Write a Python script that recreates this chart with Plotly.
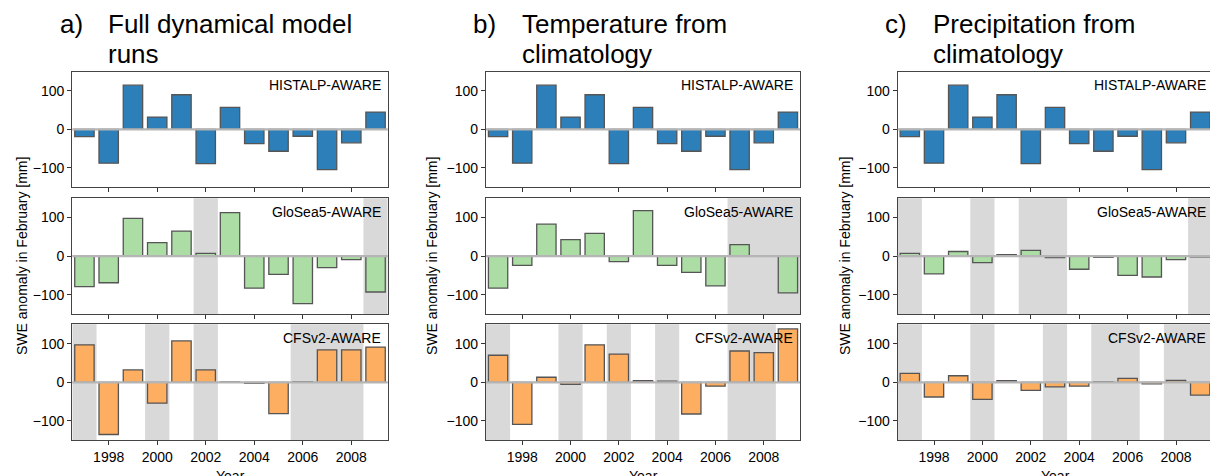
import plotly.graph_objects as go

# ---------------- data ----------------
years = list(range(1997, 2010))

histalp = [-19, -88, 115, 32, 90, -89, 57, -37, -57, -18, -105, -35, 45]

glosea_a = [-79, -69, 98, 35, 65, 7, 113, -83, -47, -123, -30, -9, -93]
cfsv2_a = [97, -135, 32, -54, 107, 32, 1, -3, -81, 2, 84, 84, 91]

glosea_b = [-83, -24, 83, 43, 59, -14, 118, -24, -42, -77, 30, 1, -95]
cfsv2_b = [70, -109, 13, -5, 97, 73, 4, 3, -82, -10, 81, 77, 138]

glosea_c = [7, -46, 12, -17, 4, 15, -4, -34, -3, -50, -54, -9, -2]
cfsv2_c = [23, -38, 17, -44, 4, -21, -12, -10, 2, 10, -4, 5, -33]

shade_histalp = []
shade_glosea_a = [2002, 2009]
shade_cfsv2_a = [1997, 2000, 2002, 2006, 2007, 2008]
shade_glosea_b = [2007, 2008, 2009]
shade_cfsv2_b = [1997, 2000, 2002, 2004, 2007, 2008]
shade_glosea_c = [1997, 2000, 2002, 2003, 2009]
shade_cfsv2_c = [1997, 2000, 2003, 2005, 2006, 2008, 2009]

row_names = ["HISTALP-AWARE", "GloSea5-AWARE", "CFSv2-AWARE"]
col_letters = ["a)", "b)", "c)"]
col_titles = [["Full dynamical model", "runs"],
              ["Temperature from", "climatology"],
              ["Precipitation from", "climatology"]]
ylabel = "SWE anomaly in February [mm]"
xlabel = "Year"
x_tickvals = [1998, 2000, 2002, 2004, 2006, 2008]
y_tickvals = [-100, 0, 100]

series = [
    [histalp, histalp, histalp],
    [glosea_a, glosea_b, glosea_c],
    [cfsv2_a, cfsv2_b, cfsv2_c],
]
shades = [
    [shade_histalp, shade_histalp, shade_histalp],
    [shade_glosea_a, shade_glosea_b, shade_glosea_c],
    [shade_cfsv2_a, shade_cfsv2_b, shade_cfsv2_c],
]
row_colors = ["#2c7fb8", "#abdda4", "#fdae61"]

# ---------------- layout geometry (pixels) ----------------
W, H = 1210, 476
col_px = [(72.3, 387.7), (486.0, 800.0), (897.7, 1210.0)]
row_px = [(71.7, 187.0), (198.3, 314.0), (324.3, 440.3)]
px_per_year = 24.2
xmin = 1996.5
col_xmax = [2009.5, 2009.5, xmin + (1210.0 - 897.7) / px_per_year]
col_right_true = [387.7, 800.0, 1213.0]

def fx(p):
    return p / W

def fy(p):
    return 1 - p / H

def runs(yrs):
    """group consecutive shaded years into (start, end) spans"""
    out = []
    for yr in sorted(yrs):
        if out and yr == out[-1][1] + 1:
            out[-1][1] = yr
        else:
            out.append([yr, yr])
    return out

fig = go.Figure()
layout = dict(
    width=W, height=H,
    margin=dict(l=0, r=0, t=0, b=0),
    paper_bgcolor="white", plot_bgcolor="rgba(0,0,0,0)",
    showlegend=False,
    font=dict(family="Liberation Sans, Arial, sans-serif", size=14, color="black"),
    bargap=0.2,
)
shapes = []
annotations = []

for r in range(3):
    for c in range(3):
        k = r * 3 + c + 1
        xa = "x" if k == 1 else f"x{k}"
        ya = "y" if k == 1 else f"y{k}"
        xkey = "xaxis" if k == 1 else f"xaxis{k}"
        ykey = "yaxis" if k == 1 else f"yaxis{k}"

        fig.add_trace(go.Bar(
            x=years, y=series[r][c], width=0.8,
            marker=dict(color=row_colors[r], line=dict(color="#555555", width=1.3)),
            xaxis=xa, yaxis=ya, hoverinfo="x+y",
        ))

        layout[xkey] = dict(
            domain=[fx(col_px[c][0]), fx(col_px[c][1])],
            anchor=ya, range=[xmin, col_xmax[c]],
            showgrid=False, zeroline=False,
            showline=True, linecolor="#444444", linewidth=1.2, mirror=True,
            ticks="outside", ticklen=4, tickwidth=1, tickcolor="#333333",
            tickvals=x_tickvals, showticklabels=(r == 2),
            tickfont=dict(size=14, color="black"),
        )
        layout[ykey] = dict(
            domain=[fy(row_px[r][1]), fy(row_px[r][0])],
            anchor=xa, range=[-150, 150],
            showgrid=False, zeroline=False,
            showline=True, linecolor="#444444", linewidth=1.2, mirror=(c < 2),
            ticks="outside", ticklen=4, tickwidth=1, tickcolor="#333333",
            tickvals=y_tickvals, tickfont=dict(size=14, color="black"),
        )

        # grey shading behind selected years
        for a, b in runs(shades[r][c]):
            shapes.append(dict(
                type="rect", xref=xa, yref=f"{ya} domain",
                x0=a - 0.5, x1=b + 0.5, y0=0, y1=1,
                fillcolor="#d9d9d9", line=dict(width=0), layer="below",
            ))
        # zero line
        shapes.append(dict(
            type="line", xref=f"{xa} domain", yref=ya,
            x0=0, x1=1, y0=0, y1=0,
            line=dict(color="#b5b5b5", width=2.2), layer="above",
        ))
        # panel label
        annotations.append(dict(
            text=row_names[r], xref="paper", yref="paper",
            x=fx(col_right_true[c] - 5), y=fy(row_px[r][0] + 13.5),
            xanchor="right", yanchor="middle", showarrow=False,
            font=dict(size=14, color="black"),
        ))

# column titles
letter_x = [58, 471, 883]
title_x = [106, 520, 931]
for c in range(3):
    annotations.append(dict(
        text=col_letters[c], xref="paper", yref="paper",
        x=fx(letter_x[c]), y=fy(24), xanchor="left", yanchor="middle",
        showarrow=False, font=dict(size=26, color="black"),
    ))
    for i, line in enumerate(col_titles[c]):
        annotations.append(dict(
            text=line, xref="paper", yref="paper",
            x=fx(title_x[c]), y=fy(24 + 30 * i), xanchor="left", yanchor="middle",
            showarrow=False, font=dict(size=26, color="black"),
        ))

# axis titles
ylab_x = [22, 432, 845]
for c in range(3):
    annotations.append(dict(
        text=ylabel, xref="paper", yref="paper",
        x=fx(ylab_x[c]), y=fy(256), xanchor="center", yanchor="middle",
        textangle=-90, showarrow=False, font=dict(size=14, color="black"),
    ))
    annotations.append(dict(
        text=xlabel, xref="paper", yref="paper",
        x=fx((col_px[c][0] + col_right_true[c]) / 2), y=fy(466),
        xanchor="center", yanchor="top",
        showarrow=False, font=dict(size=14, color="black"),
    ))

layout["shapes"] = shapes
layout["annotations"] = annotations
fig.update_layout(**layout)
fig.write_html(
    "out.html",
    config={"displayModeBar": False},
    post_script="document.body.style.margin='0';document.body.style.overflow='hidden';",
)
